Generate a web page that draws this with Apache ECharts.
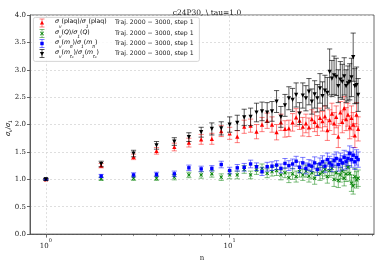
<!DOCTYPE html>
<html><head><meta charset="utf-8">
<script src="https://cdn.jsdelivr.net/npm/echarts@6/dist/echarts.min.js"></script>
<style>html,body{margin:0;padding:0;background:#fff}#c{width:381px;height:267px}</style>
</head><body><div id="c"></div>
<script>
const nValues = [1,2,3,4,5,6,7,8,9,10,11,12,13,14,15,16,17,18,19,20,21,22,23,24,25,26,27,28,29,30,31,32,33,34,35,36,37,38,39,40,41,42,43,44,45,46,47,48,49,50];
const plaqVal = [1.00,1.25,1.41,1.52,1.59,1.67,1.73,1.74,1.88,1.84,1.78,1.96,1.98,1.87,2.00,2.07,2.00,1.86,2.04,1.92,1.93,2.04,2.13,2.07,1.96,2.02,1.95,2.10,2.05,1.98,2.12,2.06,2.15,1.90,2.08,2.20,2.02,2.14,1.78,2.22,2.05,2.30,2.10,2.18,1.95,2.12,2.00,1.80,2.18,1.92];
const plaqErr = [0.01,0.04,0.05,0.06,0.07,0.08,0.09,0.10,0.10,0.11,0.11,0.12,0.12,0.13,0.13,0.14,0.14,0.14,0.15,0.15,0.15,0.16,0.16,0.16,0.17,0.17,0.17,0.17,0.18,0.18,0.18,0.18,0.19,0.19,0.19,0.19,0.20,0.20,0.20,0.20,0.20,0.21,0.21,0.21,0.21,0.22,0.22,0.22,0.22,0.22];
const qVal = [1.00,1.01,1.02,1.02,1.04,1.08,1.08,1.10,1.04,1.08,1.08,1.18,1.08,1.17,1.20,1.11,1.14,1.16,1.08,1.12,1.03,1.10,1.05,1.14,1.08,1.15,1.06,1.12,1.02,1.18,1.10,1.13,1.18,1.05,1.16,1.20,1.00,1.12,0.98,1.08,1.15,1.02,1.10,1.22,1.11,0.93,0.88,1.05,0.99,1.02];
const qErr = [0.01,0.03,0.04,0.04,0.05,0.05,0.06,0.06,0.06,0.07,0.07,0.07,0.07,0.08,0.08,0.08,0.08,0.09,0.09,0.09,0.09,0.10,0.10,0.10,0.10,0.11,0.11,0.11,0.11,0.11,0.12,0.12,0.12,0.12,0.12,0.13,0.13,0.13,0.13,0.13,0.14,0.14,0.14,0.14,0.14,0.15,0.15,0.15,0.15,0.15];
const mpiVal = [1.00,1.06,1.08,1.09,1.10,1.21,1.19,1.20,1.27,1.16,1.21,1.22,1.28,1.23,1.14,1.23,1.24,1.26,1.20,1.29,1.25,1.28,1.33,1.22,1.30,1.20,1.26,1.24,1.30,1.18,1.28,1.32,1.24,1.36,1.30,1.26,1.34,1.38,1.27,1.35,1.30,1.40,1.32,1.38,1.47,1.36,1.44,1.32,1.40,1.36];
const mpiErr = [0.01,0.03,0.04,0.04,0.05,0.05,0.05,0.05,0.06,0.06,0.06,0.07,0.07,0.07,0.07,0.08,0.08,0.08,0.08,0.09,0.09,0.09,0.09,0.10,0.10,0.10,0.10,0.10,0.11,0.11,0.11,0.11,0.11,0.12,0.12,0.12,0.12,0.12,0.12,0.13,0.13,0.13,0.13,0.13,0.14,0.14,0.14,0.14,0.14,0.14];
const mt0Val = [1.00,1.28,1.47,1.62,1.69,1.77,1.86,1.92,1.93,2.00,2.03,2.13,2.14,2.22,2.24,2.22,2.24,2.42,2.14,2.35,2.48,2.45,2.54,2.20,2.53,2.48,2.60,2.42,2.55,2.48,2.66,2.52,2.62,2.58,2.96,2.84,2.90,2.87,2.70,2.82,2.78,2.88,2.70,2.75,2.78,2.86,3.23,2.70,2.72,2.54];
const mt0Err = [0.02,0.05,0.06,0.07,0.07,0.08,0.09,0.11,0.12,0.14,0.14,0.15,0.16,0.17,0.17,0.18,0.18,0.20,0.19,0.20,0.21,0.21,0.22,0.20,0.23,0.23,0.24,0.23,0.25,0.25,0.27,0.26,0.28,0.28,0.42,0.33,0.35,0.34,0.30,0.33,0.32,0.34,0.30,0.32,0.33,0.35,0.44,0.32,0.33,0.30];
const yTicks = [0,0.5,1.0,1.5,2.0,2.5,3.0,3.5,4.0];
const xMajorTicks = [1,10];
const xMinorTicks = [2,3,4,5,6,7,8,9,20,30,40,50,60];
const trajText = 'Traj. 2000 \u2212 3000, step 1';

const chart = echarts.init(document.getElementById('c'), null, {renderer:'canvas'});
const SERIF = 'DejaVu Serif';
const SANS = 'DejaVu Sans';

function errSeries(vals, errs, color, z) {
  return {
    type:'custom', xAxisIndex:0, yAxisIndex:0, z:z, silent:true, clip:true,
    data: nValues.map((n,i)=>[n, vals[i]-errs[i], vals[i]+errs[i]]),
    encode:{x:0, y:[1,2]},
    renderItem(params, api){
      const lo = api.coord([api.value(0), api.value(1)]);
      const hi = api.coord([api.value(0), api.value(2)]);
      const w = 2.6;
      const st = {stroke: color, lineWidth: 1};
      return {type:'group', children:[
        {type:'line', shape:{x1:lo[0],y1:lo[1],x2:hi[0],y2:hi[1]}, style:st},
        {type:'line', shape:{x1:lo[0]-w,y1:lo[1],x2:lo[0]+w,y2:lo[1]}, style:st},
        {type:'line', shape:{x1:hi[0]-w,y1:hi[1],x2:hi[0]+w,y2:hi[1]}, style:st}
      ]};
    }
  };
}
function markSeries(vals, color, symbol, size, z, rot) {
  return {type:'scatter', xAxisIndex:0, yAxisIndex:0, z:z, silent:true,
    data: nValues.map((n,i)=>[n, vals[i]]),
    symbol:symbol, symbolSize:size, symbolRotate: rot||0,
    itemStyle:{color:color, opacity:1}};
}
const XPATH = 'path://M-3,-2 L-2,-3 L0,-1 L2,-3 L3,-2 L1,0 L3,2 L2,3 L0,1 L-2,3 L-3,2 L-1,0 Z';

const series = [
  {type:'line', data:[], xAxisIndex:0, yAxisIndex:0, z:1, silent:true,
    markLine:{silent:true, symbol:['none','none'], label:{show:false}, animation:false,
      lineStyle:{color:'#d6d6d6', type:[2,2], width:0.8},
      data: xMajorTicks.map(v=>({xAxis:v}))}},
  errSeries(plaqVal, plaqErr, 'rgba(255,0,0,0.5)', 2),
  markSeries(plaqVal, '#ff0000', 'triangle', 4.2, 3),
  errSeries(qVal, qErr, 'rgba(0,128,0,0.5)', 4),
  markSeries(qVal, '#008000', XPATH, 3.8, 5),
  errSeries(mpiVal, mpiErr, 'rgba(0,0,255,0.5)', 6),
  markSeries(mpiVal, '#0000ff', 'rect', 3.4, 7),
  errSeries(mt0Val, mt0Err, 'rgba(0,0,0,0.65)', 8),
  markSeries(mt0Val, '#000000', 'triangle', 4.2, 9, 180)
];

// legend graphic
const rows = [
  {y:23, color:'#ff0000', bar:'rgba(255,0,0,0.5)', shape:'up',
   text:'{i|\u03c3}{sb|v}{t|(plaq)/}{i|\u03c3}{sb|1}{t|(plaq)}'},
  {y:33.5, color:'#008000', bar:'rgba(0,128,0,0.5)', shape:'x',
   text:'{i|\u03c3}{sb|v}{t|(}{i|Q}{t|)/}{i|\u03c3}{sb|1}{t|(}{i|Q}{t|)}'},
  {y:43.5, color:'#0000ff', bar:'rgba(0,0,255,0.5)', shape:'sq',
   text:'{i|\u03c3}{sb|v}{t|(}{i|m}{sb|\u03c0}{t|)/}{i|\u03c3}{sb|1}{t|(}{i|m}{sb|\u03c0}{t|)}'},
  {y:53.5, color:'#000000', bar:'rgba(0,0,0,0.65)', shape:'down',
   text:'{i|\u03c3}{sb|v}{t|(}{i|m}{sb|t\u2080}{t|)/}{i|\u03c3}{sb|1}{t|(}{i|m}{sb|t\u2080}{t|)}'}
];
const richLeg = {
  t:{fontFamily:SANS, fontSize:6.2, color:'#222', lineHeight:10, verticalAlign:'top'},
  i:{fontFamily:SANS, fontStyle:'italic', fontSize:6.2, color:'#222', lineHeight:10, verticalAlign:'top'},
  sb:{fontFamily:SANS, fontStyle:'italic', fontSize:4.4, color:'#222', lineHeight:7.5, verticalAlign:'bottom'}
};
const graphics = [
  {type:'rect', left:33, top:17, z:50, shape:{width:166, height:44, r:2},
   style:{fill:'rgba(255,255,255,0.85)', stroke:'#cccccc', lineWidth:0.8}}
];
rows.forEach(r=>{
  const cx = 42, cy = r.y;
  const st = {stroke:r.bar, lineWidth:1};
  graphics.push({type:'line', z:51, shape:{x1:cx,y1:cy-4,x2:cx,y2:cy+4}, style:st});
  graphics.push({type:'line', z:51, shape:{x1:cx-2.5,y1:cy-4,x2:cx+2.5,y2:cy-4}, style:st});
  graphics.push({type:'line', z:51, shape:{x1:cx-2.5,y1:cy+4,x2:cx+2.5,y2:cy+4}, style:st});
  let mk;
  if (r.shape==='up') mk = {type:'polygon', shape:{points:[[cx,cy-2.3],[cx-2.1,cy+1.6],[cx+2.1,cy+1.6]]}};
  else if (r.shape==='down') mk = {type:'polygon', shape:{points:[[cx,cy+2.3],[cx-2.1,cy-1.6],[cx+2.1,cy-1.6]]}};
  else if (r.shape==='sq') mk = {type:'rect', shape:{x:cx-1.7,y:cy-1.7,width:3.4,height:3.4}};
  else mk = {type:'polygon', shape:{points:[[cx-2,cy-1.4],[cx-1.4,cy-2],[cx,cy-0.6],[cx+1.4,cy-2],[cx+2,cy-1.4],[cx+0.6,cy],[cx+2,cy+1.4],[cx+1.4,cy+2],[cx,cy+0.6],[cx-1.4,cy+2],[cx-2,cy+1.4],[cx-0.6,cy]]}};
  mk.z = 52; mk.style = {fill:r.color};
  graphics.push(mk);
  graphics.push({type:'text', z:52, x:55, y:cy-4.5, style:{text:r.text, rich:richLeg}});
  graphics.push({type:'text', z:52, x:115, y:cy-3.5, style:{text:trajText, fontFamily:SANS, fontSize:6.2, fill:'#222'}});
});
// y axis name
graphics.push({type:'text', z:52, x:9, y:128, rotation:Math.PI/2,
  style:{text:'{i|\u03c3}{sb|v}{t|/}{i|\u03c3}{sb|1}', align:'center', verticalAlign:'middle',
    rich:{
      t:{fontFamily:SANS, fontSize:6.5, color:'#333', lineHeight:9, verticalAlign:'top'},
      i:{fontFamily:SANS, fontStyle:'italic', fontSize:6.5, color:'#333', lineHeight:9, verticalAlign:'top'},
      sb:{fontFamily:SANS, fontStyle:'italic', fontSize:4.6, color:'#333', lineHeight:7, verticalAlign:'bottom'}
    }}});

const option = {
  animation:false,
  backgroundColor:'#ffffff',
  title:{text:'c24P30, \\ tau=1.0', left:202, textAlign:'center', top:4,
    textStyle:{fontFamily:SERIF, fontSize:7.5, fontWeight:'normal', color:'#222'}},
  grid:{left:30, right:7, top:15, bottom:28, show:true, borderColor:'#444', borderWidth:0.8, backgroundColor:'transparent'},
  xAxis:[
    {type:'log', logBase:10, min:0.82, max:61, gridIndex:0, position:'bottom',
     name:'n', nameLocation:'middle', nameGap:14,
     nameTextStyle:{fontFamily:SERIF, fontSize:7, color:'#222'},
     axisLine:{show:true, onZero:false, lineStyle:{color:'#444', width:0.8}},
     axisTick:{show:true, length:3.5, customValues:xMajorTicks, lineStyle:{color:'#444', width:0.8}},
     axisLabel:{customValues:xMajorTicks, margin:4,
       formatter:v=>'{b|10}{s|'+Math.round(Math.log10(v))+'}',
       rich:{b:{fontFamily:SERIF, fontSize:7, color:'#222', lineHeight:12, verticalAlign:'bottom'},
             s:{fontFamily:SERIF, fontSize:5, color:'#222', lineHeight:6, verticalAlign:'top'}}},
     splitLine:{show:false}},
    {type:'log', logBase:10, min:0.82, max:61, gridIndex:0, position:'bottom', offset:0,
     axisLine:{show:false},
     axisTick:{show:true, length:2, customValues:xMinorTicks, lineStyle:{color:'#444', width:0.6}},
     axisLabel:{show:false}, splitLine:{show:false}}
  ],
  yAxis:{type:'value', min:0, max:4, interval:0.5,
    axisLine:{show:true, lineStyle:{color:'#444', width:0.8}},
    axisTick:{show:true, length:3, lineStyle:{color:'#444', width:0.8}},
    axisLabel:{fontFamily:SERIF, fontSize:7, color:'#222', margin:4, formatter:v=>v.toFixed(1)},
    splitLine:{show:true, lineStyle:{color:'#d6d6d6', type:[2,2], width:0.8}}},
  series:series,
  graphic:graphics
};
chart.setOption(option);
</script></body></html>
